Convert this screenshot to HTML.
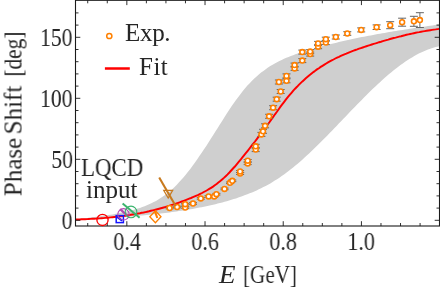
<!DOCTYPE html>
<html><head><meta charset="utf-8"><title>Phase shift</title>
<style>
html,body{margin:0;padding:0;background:#fff;}
body{width:440px;height:294px;position:relative;overflow:hidden;font-family:"Liberation Serif",serif;color:#262626;}
.t{position:absolute;white-space:nowrap;line-height:1;will-change:transform;}
.r{left:0;top:0;font-size:25px;transform-origin:0 0;}
.yl{right:367.5px;font-size:25px;transform-origin:100% 50%;transform:scaleX(0.865);}
.xl{top:229.3px;width:60px;text-align:center;font-size:25px;transform-origin:50% 50%;transform:scaleX(0.885);}
</style></head><body>
<svg width="440" height="294" viewBox="0 0 440 294" style="position:absolute;left:0;top:0"><defs><clipPath id="c"><rect x="75.5" y="0.3" width="364.0" height="225.7"/></clipPath></defs><g clip-path="url(#c)"><path d="M76.0,219.4 L78.3,219.1 L80.6,218.8 L82.9,218.5 L85.1,218.2 L87.4,217.9 L89.7,217.6 L92.0,217.3 L94.3,217.0 L96.6,216.7 L98.9,216.4 L101.1,216.1 L103.4,215.8 L105.7,215.4 L108.0,215.1 L110.3,214.7 L112.6,214.4 L114.9,214.0 L117.1,213.5 L119.4,213.1 L121.7,212.6 L124.0,212.2 L126.3,211.6 L128.6,211.1 L130.9,210.5 L133.1,209.9 L135.4,209.3 L137.7,208.6 L140.0,207.9 L142.3,207.1 L144.6,206.2 L146.9,205.3 L149.1,204.3 L151.4,203.2 L153.7,202.1 L156.0,200.9 L158.3,199.5 L160.6,198.1 L162.9,196.6 L165.1,195.0 L167.4,193.2 L169.7,191.4 L172.0,189.4 L174.3,187.3 L176.6,185.0 L178.8,182.6 L181.1,180.1 L183.4,177.5 L185.7,174.7 L188.0,171.8 L190.3,168.9 L192.6,165.8 L194.8,162.7 L197.1,159.4 L199.4,156.1 L201.7,152.8 L204.0,149.3 L206.3,145.9 L208.6,142.3 L210.8,138.8 L213.1,135.2 L215.4,131.5 L217.7,127.9 L220.0,124.3 L222.3,120.7 L224.6,117.1 L226.8,113.5 L229.1,110.0 L231.4,106.6 L233.7,103.3 L236.0,100.0 L238.3,96.9 L240.6,93.9 L242.8,91.0 L245.1,88.3 L247.4,85.6 L249.7,83.2 L252.0,80.8 L254.3,78.6 L256.6,76.5 L258.8,74.5 L261.1,72.6 L263.4,70.9 L265.7,69.2 L268.0,67.6 L270.3,66.1 L272.6,64.7 L274.8,63.4 L277.1,62.2 L279.4,61.0 L281.7,59.9 L284.0,58.8 L286.3,57.8 L288.6,56.9 L290.8,56.0 L293.1,55.2 L295.4,54.3 L297.7,53.6 L300.0,52.8 L302.3,52.1 L304.6,51.4 L306.8,50.7 L309.1,50.0 L311.4,49.3 L313.7,48.7 L316.0,48.0 L318.3,47.4 L320.6,46.7 L322.8,46.1 L325.1,45.5 L327.4,44.9 L329.7,44.3 L332.0,43.8 L334.3,43.2 L336.6,42.7 L338.8,42.1 L341.1,41.6 L343.4,41.0 L345.7,40.5 L348.0,40.0 L350.3,39.5 L352.5,39.0 L354.8,38.5 L357.1,38.1 L359.4,37.6 L361.7,37.1 L364.0,36.7 L366.3,36.2 L368.5,35.8 L370.8,35.4 L373.1,34.9 L375.4,34.5 L377.7,34.1 L380.0,33.7 L382.3,33.3 L384.5,32.9 L386.8,32.5 L389.1,32.1 L391.4,31.7 L393.7,31.3 L396.0,31.0 L398.3,30.6 L400.5,30.2 L402.8,29.9 L405.1,29.5 L407.4,29.2 L409.7,28.8 L412.0,28.4 L414.3,28.1 L416.5,27.7 L418.8,27.4 L421.1,27.1 L423.4,26.7 L425.7,26.4 L428.0,26.0 L430.3,25.7 L432.5,25.4 L434.8,25.0 L437.1,24.7 L439.4,24.4 L439.4,46.3 L437.1,46.7 L434.8,47.3 L432.5,47.9 L430.3,48.7 L428.0,49.5 L425.7,50.4 L423.4,51.4 L421.1,52.4 L418.8,53.5 L416.5,54.7 L414.3,56.0 L412.0,57.4 L409.7,58.8 L407.4,60.2 L405.1,61.8 L402.8,63.4 L400.5,65.0 L398.3,66.7 L396.0,68.5 L393.7,70.3 L391.4,72.2 L389.1,74.1 L386.8,76.0 L384.5,78.0 L382.3,80.1 L380.0,82.2 L377.7,84.3 L375.4,86.4 L373.1,88.6 L370.8,90.8 L368.5,93.0 L366.3,95.3 L364.0,97.6 L361.7,99.9 L359.4,102.2 L357.1,104.6 L354.8,106.9 L352.5,109.3 L350.3,111.6 L348.0,114.0 L345.7,116.4 L343.4,118.8 L341.1,121.2 L338.8,123.6 L336.6,125.9 L334.3,128.3 L332.0,130.7 L329.7,133.0 L327.4,135.4 L325.1,137.7 L322.8,140.0 L320.6,142.3 L318.3,144.6 L316.0,146.8 L313.7,149.0 L311.4,151.2 L309.1,153.4 L306.8,155.5 L304.6,157.6 L302.3,159.7 L300.0,161.7 L297.7,163.7 L295.4,165.6 L293.1,167.5 L290.8,169.3 L288.6,171.1 L286.3,172.8 L284.0,174.5 L281.7,176.1 L279.4,177.7 L277.1,179.2 L274.8,180.6 L272.6,182.0 L270.3,183.4 L268.0,184.7 L265.7,185.9 L263.4,187.1 L261.1,188.2 L258.8,189.3 L256.6,190.4 L254.3,191.4 L252.0,192.4 L249.7,193.3 L247.4,194.2 L245.1,195.1 L242.8,196.0 L240.6,196.8 L238.3,197.6 L236.0,198.4 L233.7,199.1 L231.4,199.8 L229.1,200.5 L226.8,201.2 L224.6,201.8 L222.3,202.4 L220.0,203.0 L217.7,203.6 L215.4,204.2 L213.1,204.7 L210.8,205.2 L208.6,205.8 L206.3,206.2 L204.0,206.7 L201.7,207.2 L199.4,207.6 L197.1,208.1 L194.8,208.5 L192.6,208.9 L190.3,209.3 L188.0,209.7 L185.7,210.0 L183.4,210.4 L181.1,210.8 L178.8,211.1 L176.6,211.4 L174.3,211.8 L172.0,212.1 L169.7,212.4 L167.4,212.7 L165.1,213.0 L162.9,213.2 L160.6,213.5 L158.3,213.8 L156.0,214.0 L153.7,214.3 L151.4,214.5 L149.1,214.7 L146.9,215.0 L144.6,215.2 L142.3,215.4 L140.0,215.6 L137.7,215.8 L135.4,216.0 L133.1,216.2 L130.9,216.4 L128.6,216.6 L126.3,216.7 L124.0,216.9 L121.7,217.1 L119.4,217.2 L117.1,217.4 L114.9,217.6 L112.6,217.7 L110.3,217.9 L108.0,218.0 L105.7,218.2 L103.4,218.3 L101.1,218.5 L98.9,218.6 L96.6,218.7 L94.3,218.9 L92.0,219.0 L89.7,219.2 L87.4,219.3 L85.1,219.4 L82.9,219.6 L80.6,219.7 L78.3,219.9 L76.0,220.0 Z" fill="#cfcfcf"/><path d="M76.0,219.5 L77.8,219.4 L79.7,219.4 L81.5,219.3 L83.3,219.3 L85.1,219.2 L87.0,219.1 L88.8,219.0 L90.6,218.9 L92.4,218.8 L94.3,218.7 L96.1,218.6 L97.9,218.5 L99.7,218.4 L101.6,218.2 L103.4,218.1 L105.2,217.9 L107.0,217.8 L108.9,217.6 L110.7,217.4 L112.5,217.2 L114.3,217.0 L116.2,216.8 L118.0,216.6 L119.8,216.4 L121.7,216.2 L123.5,215.9 L125.3,215.7 L127.1,215.4 L129.0,215.1 L130.8,214.8 L132.6,214.5 L134.4,214.2 L136.3,213.9 L138.1,213.5 L139.9,213.2 L141.7,212.8 L143.6,212.5 L145.4,212.1 L147.2,211.7 L149.0,211.3 L150.9,210.8 L152.7,210.4 L154.5,210.0 L156.3,209.5 L158.2,209.0 L160.0,208.5 L161.8,208.0 L163.7,207.5 L165.5,207.0 L167.3,206.4 L169.1,205.9 L171.0,205.3 L172.8,204.7 L174.6,204.1 L176.4,203.5 L178.3,202.8 L180.1,202.2 L181.9,201.5 L183.7,200.8 L185.6,200.1 L187.4,199.4 L189.2,198.7 L191.0,198.0 L192.9,197.2 L194.7,196.4 L196.5,195.6 L198.4,194.8 L200.2,193.9 L202.0,193.0 L203.8,192.0 L205.7,191.0 L207.5,190.0 L209.3,188.9 L211.1,187.8 L213.0,186.6 L214.8,185.3 L216.6,184.0 L218.4,182.6 L220.3,181.1 L222.1,179.5 L223.9,177.9 L225.7,176.2 L227.6,174.4 L229.4,172.5 L231.2,170.5 L233.0,168.5 L234.9,166.5 L236.7,164.3 L238.5,162.2 L240.4,160.0 L242.2,157.7 L244.0,155.4 L245.8,153.2 L247.7,150.8 L249.5,148.5 L251.3,146.2 L253.1,143.8 L255.0,141.5 L256.8,139.1 L258.6,136.7 L260.4,134.3 L262.3,131.9 L264.1,129.4 L265.9,127.0 L267.7,124.5 L269.6,122.0 L271.4,119.4 L273.2,116.9 L275.0,114.3 L276.9,111.8 L278.7,109.2 L280.5,106.7 L282.4,104.2 L284.2,101.8 L286.0,99.4 L287.8,97.1 L289.7,94.9 L291.5,92.8 L293.3,90.7 L295.1,88.7 L297.0,86.8 L298.8,84.9 L300.6,83.1 L302.4,81.4 L304.3,79.7 L306.1,78.1 L307.9,76.5 L309.7,75.0 L311.6,73.5 L313.4,72.1 L315.2,70.8 L317.0,69.4 L318.9,68.2 L320.7,66.9 L322.5,65.8 L324.4,64.6 L326.2,63.5 L328.0,62.4 L329.8,61.4 L331.7,60.4 L333.5,59.5 L335.3,58.5 L337.1,57.6 L339.0,56.8 L340.8,55.9 L342.6,55.1 L344.4,54.3 L346.3,53.6 L348.1,52.8 L349.9,52.1 L351.7,51.4 L353.6,50.7 L355.4,50.0 L357.2,49.4 L359.1,48.7 L360.9,48.1 L362.7,47.5 L364.5,46.9 L366.4,46.3 L368.2,45.7 L370.0,45.1 L371.8,44.5 L373.7,43.9 L375.5,43.4 L377.3,42.8 L379.1,42.2 L381.0,41.7 L382.8,41.1 L384.6,40.6 L386.4,40.1 L388.3,39.6 L390.1,39.0 L391.9,38.5 L393.7,38.0 L395.6,37.6 L397.4,37.1 L399.2,36.6 L401.1,36.2 L402.9,35.7 L404.7,35.3 L406.5,34.8 L408.4,34.4 L410.2,34.0 L412.0,33.6 L413.8,33.2 L415.7,32.8 L417.5,32.4 L419.3,32.1 L421.1,31.7 L423.0,31.4 L424.8,31.1 L426.6,30.8 L428.4,30.5 L430.3,30.2 L432.1,29.9 L433.9,29.6 L435.7,29.4 L437.6,29.1 L439.4,28.9" fill="none" stroke="#ff0000" stroke-width="1.95"/></g><path d="M87.73,226.0 v-3.0 M87.73,0.3 v3.0 M107.28,226.0 v-3.0 M107.28,0.3 v3.0 M126.83,226.0 v-4.8 M126.83,0.3 v4.8 M146.38,226.0 v-3.0 M146.38,0.3 v3.0 M165.93,226.0 v-3.0 M165.93,0.3 v3.0 M185.48,226.0 v-3.0 M185.48,0.3 v3.0 M205.03,226.0 v-4.8 M205.03,0.3 v4.8 M224.58,226.0 v-3.0 M224.58,0.3 v3.0 M244.13,226.0 v-3.0 M244.13,0.3 v3.0 M263.68,226.0 v-3.0 M263.68,0.3 v3.0 M283.23,226.0 v-4.8 M283.23,0.3 v4.8 M302.78,226.0 v-3.0 M302.78,0.3 v3.0 M322.33,226.0 v-3.0 M322.33,0.3 v3.0 M341.88,226.0 v-3.0 M341.88,0.3 v3.0 M361.43,226.0 v-4.8 M361.43,0.3 v4.8 M380.98,226.0 v-3.0 M380.98,0.3 v3.0 M400.53,226.0 v-3.0 M400.53,0.3 v3.0 M420.08,226.0 v-3.0 M420.08,0.3 v3.0 M439.63,226.0 v-4.8 M439.63,0.3 v4.8 M75.5,220.30 h4.8 M439.5,220.30 h-4.8 M75.5,208.10 h3.0 M439.5,208.10 h-3.0 M75.5,195.90 h3.0 M439.5,195.90 h-3.0 M75.5,183.70 h3.0 M439.5,183.70 h-3.0 M75.5,171.50 h3.0 M439.5,171.50 h-3.0 M75.5,159.30 h4.8 M439.5,159.30 h-4.8 M75.5,147.10 h3.0 M439.5,147.10 h-3.0 M75.5,134.90 h3.0 M439.5,134.90 h-3.0 M75.5,122.70 h3.0 M439.5,122.70 h-3.0 M75.5,110.50 h3.0 M439.5,110.50 h-3.0 M75.5,98.30 h4.8 M439.5,98.30 h-4.8 M75.5,86.10 h3.0 M439.5,86.10 h-3.0 M75.5,73.90 h3.0 M439.5,73.90 h-3.0 M75.5,61.70 h3.0 M439.5,61.70 h-3.0 M75.5,49.50 h3.0 M439.5,49.50 h-3.0 M75.5,37.30 h4.8 M439.5,37.30 h-4.8 M75.5,25.10 h3.0 M439.5,25.10 h-3.0 M75.5,12.90 h3.0 M439.5,12.90 h-3.0" stroke="#1a1a1a" stroke-width="0.9" fill="none"/><rect x="75.5" y="0.3" width="364.0" height="225.7" fill="none" stroke="#1a1a1a" stroke-width="1.1"/><path d="M169.6,207.2 V208.8 M165.6,207.2 h8 M165.6,208.8 h8" stroke="#666" stroke-width="1" fill="none"/>
<path d="M177.1,206.2 V207.8 M173.1,206.2 h8 M173.1,207.8 h8" stroke="#666" stroke-width="1" fill="none"/>
<path d="M185.2,206.7 V208.3 M181.2,206.7 h8 M181.2,208.3 h8" stroke="#666" stroke-width="1" fill="none"/>
<path d="M185.2,203.4 V205.0 M181.2,203.4 h8 M181.2,205.0 h8" stroke="#666" stroke-width="1" fill="none"/>
<path d="M193.0,202.7 V204.3 M189.0,202.7 h8 M189.0,204.3 h8" stroke="#666" stroke-width="1" fill="none"/>
<path d="M200.8,197.6 V199.2 M196.8,197.6 h8 M196.8,199.2 h8" stroke="#666" stroke-width="1" fill="none"/>
<path d="M208.6,195.6 V197.2 M204.6,195.6 h8 M204.6,197.2 h8" stroke="#666" stroke-width="1" fill="none"/>
<path d="M214.2,195.6 V197.2 M210.2,195.6 h8 M210.2,197.2 h8" stroke="#666" stroke-width="1" fill="none"/>
<path d="M216.4,193.4 V195.0 M212.4,193.4 h8 M212.4,195.0 h8" stroke="#666" stroke-width="1" fill="none"/>
<path d="M224.5,188.1 V189.7 M220.5,188.1 h8 M220.5,189.7 h8" stroke="#666" stroke-width="1" fill="none"/>
<path d="M230.0,182.0 V183.6 M226.0,182.0 h8 M226.0,183.6 h8" stroke="#666" stroke-width="1" fill="none"/>
<path d="M232.3,180.0 V181.6 M228.3,180.0 h8 M228.3,181.6 h8" stroke="#666" stroke-width="1" fill="none"/>
<path d="M240.1,172.5 V174.5 M236.1,172.5 h8 M236.1,174.5 h8" stroke="#666" stroke-width="1" fill="none"/>
<path d="M240.1,170.5 V172.5 M236.1,170.5 h8 M236.1,172.5 h8" stroke="#666" stroke-width="1" fill="none"/>
<path d="M247.7,162.2 V164.6 M243.7,162.2 h8 M243.7,164.6 h8" stroke="#666" stroke-width="1" fill="none"/>
<path d="M247.7,159.5 V161.9 M243.7,159.5 h8 M243.7,161.9 h8" stroke="#666" stroke-width="1" fill="none"/>
<path d="M255.7,147.6 V151.6 M251.7,147.6 h8 M251.7,151.6 h8" stroke="#666" stroke-width="1" fill="none"/>
<path d="M255.7,144.3 V148.3 M251.7,144.3 h8 M251.7,148.3 h8" stroke="#666" stroke-width="1" fill="none"/>
<path d="M261.4,132.4 V136.4 M257.4,132.4 h8 M257.4,136.4 h8" stroke="#666" stroke-width="1" fill="none"/>
<path d="M263.0,129.3 V133.3 M259.0,129.3 h8 M259.0,133.3 h8" stroke="#666" stroke-width="1" fill="none"/>
<path d="M265.1,123.8 V127.8 M261.1,123.8 h8 M261.1,127.8 h8" stroke="#666" stroke-width="1" fill="none"/>
<path d="M269.1,114.3 V118.3 M265.1,114.3 h8 M265.1,118.3 h8" stroke="#666" stroke-width="1" fill="none"/>
<path d="M273.1,105.7 V109.7 M269.1,105.7 h8 M269.1,109.7 h8" stroke="#666" stroke-width="1" fill="none"/>
<path d="M276.7,97.2 V101.2 M272.7,97.2 h8 M272.7,101.2 h8" stroke="#666" stroke-width="1" fill="none"/>
<path d="M280.7,89.5 V93.5 M276.7,89.5 h8 M276.7,93.5 h8" stroke="#666" stroke-width="1" fill="none"/>
<path d="M278.9,80.0 V84.0 M274.9,80.0 h8 M274.9,84.0 h8" stroke="#666" stroke-width="1" fill="none"/>
<path d="M286.5,78.8 V82.8 M282.5,78.8 h8 M282.5,82.8 h8" stroke="#666" stroke-width="1" fill="none"/>
<path d="M286.5,73.9 V77.9 M282.5,73.9 h8 M282.5,77.9 h8" stroke="#666" stroke-width="1" fill="none"/>
<path d="M294.6,66.4 V70.4 M290.6,66.4 h8 M290.6,70.4 h8" stroke="#666" stroke-width="1" fill="none"/>
<path d="M294.6,63.1 V67.1 M290.6,63.1 h8 M290.6,67.1 h8" stroke="#666" stroke-width="1" fill="none"/>
<path d="M302.3,58.6 V62.6 M298.3,58.6 h8 M298.3,62.6 h8" stroke="#666" stroke-width="1" fill="none"/>
<path d="M302.3,50.1 V54.1 M298.3,50.1 h8 M298.3,54.1 h8" stroke="#666" stroke-width="1" fill="none"/>
<path d="M310.2,52.1 V56.1 M306.2,52.1 h8 M306.2,56.1 h8" stroke="#666" stroke-width="1" fill="none"/>
<path d="M310.2,49.6 V53.6 M306.2,49.6 h8 M306.2,53.6 h8" stroke="#666" stroke-width="1" fill="none"/>
<path d="M318.1,44.7 V48.7 M314.1,44.7 h8 M314.1,48.7 h8" stroke="#666" stroke-width="1" fill="none"/>
<path d="M318.1,41.4 V45.4 M314.1,41.4 h8 M314.1,45.4 h8" stroke="#666" stroke-width="1" fill="none"/>
<path d="M325.8,40.6 V44.6 M321.8,40.6 h8 M321.8,44.6 h8" stroke="#666" stroke-width="1" fill="none"/>
<path d="M325.8,37.2 V41.2 M321.8,37.2 h8 M321.8,41.2 h8" stroke="#666" stroke-width="1" fill="none"/>
<path d="M335.8,35.0 V39.0 M331.8,35.0 h8 M331.8,39.0 h8" stroke="#666" stroke-width="1" fill="none"/>
<path d="M347.3,31.7 V35.3 M343.3,31.7 h8 M343.3,35.3 h8" stroke="#666" stroke-width="1" fill="none"/>
<path d="M361.2,27.9 V31.9 M357.2,27.9 h8 M357.2,31.9 h8" stroke="#666" stroke-width="1" fill="none"/>
<path d="M376.6,24.9 V29.5 M372.6,24.9 h8 M372.6,29.5 h8" stroke="#666" stroke-width="1" fill="none"/>
<path d="M390.2,21.7 V28.7 M386.2,21.7 h8 M386.2,28.7 h8" stroke="#666" stroke-width="1" fill="none"/>
<path d="M402.1,18.2 V26.2 M398.1,18.2 h8 M398.1,26.2 h8" stroke="#666" stroke-width="1" fill="none"/>
<path d="M413.9,16.3 V26.3 M409.9,16.3 h8 M409.9,26.3 h8" stroke="#666" stroke-width="1" fill="none"/>
<path d="M419.9,12.7 V27.5 M415.9,12.7 h8 M415.9,27.5 h8" stroke="#666" stroke-width="1" fill="none"/>
<circle cx="169.6" cy="208.0" r="2.45" fill="#fff" stroke="#ff8000" stroke-width="1.6"/>
<circle cx="177.1" cy="207.0" r="2.45" fill="#fff" stroke="#ff8000" stroke-width="1.6"/>
<circle cx="185.2" cy="207.5" r="2.45" fill="#fff" stroke="#ff8000" stroke-width="1.6"/>
<circle cx="185.2" cy="204.2" r="2.45" fill="#fff" stroke="#ff8000" stroke-width="1.6"/>
<circle cx="193.0" cy="203.5" r="2.45" fill="#fff" stroke="#ff8000" stroke-width="1.6"/>
<circle cx="200.8" cy="198.4" r="2.45" fill="#fff" stroke="#ff8000" stroke-width="1.6"/>
<circle cx="208.6" cy="196.4" r="2.45" fill="#fff" stroke="#ff8000" stroke-width="1.6"/>
<circle cx="214.2" cy="196.4" r="2.45" fill="#fff" stroke="#ff8000" stroke-width="1.6"/>
<circle cx="216.4" cy="194.2" r="2.45" fill="#fff" stroke="#ff8000" stroke-width="1.6"/>
<circle cx="224.5" cy="188.9" r="2.45" fill="#fff" stroke="#ff8000" stroke-width="1.6"/>
<circle cx="230.0" cy="182.8" r="2.45" fill="#fff" stroke="#ff8000" stroke-width="1.6"/>
<circle cx="232.3" cy="180.8" r="2.45" fill="#fff" stroke="#ff8000" stroke-width="1.6"/>
<circle cx="240.1" cy="173.5" r="2.45" fill="#fff" stroke="#ff8000" stroke-width="1.6"/>
<circle cx="240.1" cy="171.5" r="2.45" fill="#fff" stroke="#ff8000" stroke-width="1.6"/>
<circle cx="247.7" cy="163.4" r="2.45" fill="#fff" stroke="#ff8000" stroke-width="1.6"/>
<circle cx="247.7" cy="160.7" r="2.45" fill="#fff" stroke="#ff8000" stroke-width="1.6"/>
<circle cx="255.7" cy="149.6" r="2.45" fill="#fff" stroke="#ff8000" stroke-width="1.6"/>
<circle cx="255.7" cy="146.3" r="2.45" fill="#fff" stroke="#ff8000" stroke-width="1.6"/>
<circle cx="261.4" cy="134.4" r="2.45" fill="#fff" stroke="#ff8000" stroke-width="1.6"/>
<circle cx="263.0" cy="131.3" r="2.45" fill="#fff" stroke="#ff8000" stroke-width="1.6"/>
<circle cx="265.1" cy="125.8" r="2.45" fill="#fff" stroke="#ff8000" stroke-width="1.6"/>
<circle cx="269.1" cy="116.3" r="2.45" fill="#fff" stroke="#ff8000" stroke-width="1.6"/>
<circle cx="273.1" cy="107.7" r="2.45" fill="#fff" stroke="#ff8000" stroke-width="1.6"/>
<circle cx="276.7" cy="99.2" r="2.45" fill="#fff" stroke="#ff8000" stroke-width="1.6"/>
<circle cx="280.7" cy="91.5" r="2.45" fill="#fff" stroke="#ff8000" stroke-width="1.6"/>
<circle cx="278.9" cy="82.0" r="2.45" fill="#fff" stroke="#ff8000" stroke-width="1.6"/>
<circle cx="286.5" cy="80.8" r="2.45" fill="#fff" stroke="#ff8000" stroke-width="1.6"/>
<circle cx="286.5" cy="75.9" r="2.45" fill="#fff" stroke="#ff8000" stroke-width="1.6"/>
<circle cx="294.6" cy="68.4" r="2.45" fill="#fff" stroke="#ff8000" stroke-width="1.6"/>
<circle cx="294.6" cy="65.1" r="2.45" fill="#fff" stroke="#ff8000" stroke-width="1.6"/>
<circle cx="302.3" cy="60.6" r="2.45" fill="#fff" stroke="#ff8000" stroke-width="1.6"/>
<circle cx="302.3" cy="52.1" r="2.45" fill="#fff" stroke="#ff8000" stroke-width="1.6"/>
<circle cx="310.2" cy="54.1" r="2.45" fill="#fff" stroke="#ff8000" stroke-width="1.6"/>
<circle cx="310.2" cy="51.6" r="2.45" fill="#fff" stroke="#ff8000" stroke-width="1.6"/>
<circle cx="318.1" cy="46.7" r="2.45" fill="#fff" stroke="#ff8000" stroke-width="1.6"/>
<circle cx="318.1" cy="43.4" r="2.45" fill="#fff" stroke="#ff8000" stroke-width="1.6"/>
<circle cx="325.8" cy="42.6" r="2.45" fill="#fff" stroke="#ff8000" stroke-width="1.6"/>
<circle cx="325.8" cy="39.2" r="2.45" fill="#fff" stroke="#ff8000" stroke-width="1.6"/>
<circle cx="335.8" cy="37.0" r="2.45" fill="#fff" stroke="#ff8000" stroke-width="1.6"/>
<circle cx="347.3" cy="33.5" r="2.45" fill="#fff" stroke="#ff8000" stroke-width="1.6"/>
<circle cx="361.2" cy="29.9" r="2.45" fill="#fff" stroke="#ff8000" stroke-width="1.6"/>
<circle cx="376.6" cy="27.2" r="2.45" fill="#fff" stroke="#ff8000" stroke-width="1.6"/>
<circle cx="390.2" cy="25.2" r="2.45" fill="#fff" stroke="#ff8000" stroke-width="1.6"/>
<circle cx="402.1" cy="22.2" r="2.45" fill="#fff" stroke="#ff8000" stroke-width="1.6"/>
<circle cx="413.9" cy="21.3" r="2.45" fill="#fff" stroke="#ff8000" stroke-width="1.6"/>
<circle cx="419.9" cy="20.1" r="2.45" fill="#fff" stroke="#ff8000" stroke-width="1.6"/><g fill="none" stroke-width="1.2"><circle cx="102.5" cy="219.9" r="5.6" stroke="#ff0000" stroke-width="1.3"/><rect x="116.2" y="215.6" width="7.2" height="7.0" stroke="#1414ff" stroke-width="1.5"/><path d="M117.1,216.8 L122.2,220.6" stroke="#1414ff" stroke-width="2.1"/><circle cx="123.5" cy="214.3" r="5.7" stroke="#b24ab2" stroke-width="1.1"/><path d="M120.1,209.2 L127.3,215.7" stroke="#b24ab2" stroke-width="2.3"/><circle cx="131" cy="211.9" r="5.8" stroke="#3cb46e" stroke-width="1.1"/><path d="M122.6,203.4 L139.6,217.8" stroke="#3cb46e" stroke-width="2"/><path d="M155.4,210.8 L161,216.8 L155.4,222.8 L149.8,216.8 Z" stroke="#ff8000" stroke-width="1.3"/><path d="M154.8,211.2 L157.3,218" stroke="#ff8000" stroke-width="2.1"/><path d="M163.7,190.4 L172.7,190.4 L168.2,198 Z" stroke="#c87a1e" stroke-width="1.2"/><path d="M159.2,177.4 L175.7,206" stroke="#c87a1e" stroke-width="2.1"/></g><circle cx="109.3" cy="36" r="2.6" fill="#fff" stroke="#ff8000" stroke-width="1.5"/><path d="M104.9,68.5 H129.8" stroke="#ff0000" stroke-width="2.5"/></svg>
<div class="t" style="left:124.5px;top:20.2px;font-size:25px;letter-spacing:-0.3px;">Exp.</div>
<div class="t" style="left:139px;top:54.3px;font-size:25px;letter-spacing:0.5px;">Fit</div>
<div class="t" style="left:80.6px;top:154.9px;font-size:25px;transform-origin:0 0;transform:scaleX(0.915);">LQCD</div>
<div class="t" style="left:86.3px;top:176.8px;font-size:25px;">input</div>
<div class="t yl" style="top:24.8px;">150</div>
<div class="t yl" style="top:85.8px;">100</div>
<div class="t yl" style="top:146.8px;">50</div>
<div class="t yl" style="top:207.8px;">0</div>
<div class="t xl" style="left:96.8px;">0.4</div>
<div class="t xl" style="left:175px;">0.6</div>
<div class="t xl" style="left:253.2px;">0.8</div>
<div class="t xl" style="left:331.4px;">1.0</div>
<div class="t" style="left:218.8px;top:261.8px;font-size:25px;transform-origin:0 50%;transform:scaleX(1.08);"><i>E</i></div>
<div class="t" style="left:243.4px;top:261.8px;font-size:25px;transform-origin:0 50%;transform:scaleX(0.845);">[GeV]</div>
<div class="t r" style="transform:translate(0.5px,196.2px) rotate(-90deg);">Phase</div>
<div class="t r" style="transform:translate(0.5px,134.4px) rotate(-90deg);">Shift</div>
<div class="t r" style="transform:translate(0.5px,76.5px) rotate(-90deg) scaleX(0.85);">[deg]</div>
</body></html>
